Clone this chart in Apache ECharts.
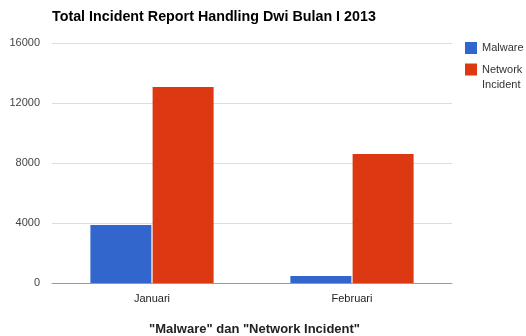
<!DOCTYPE html>
<html>
<head>
<meta charset="utf-8">
<script src="https://cdn.jsdelivr.net/npm/echarts@6/dist/echarts.min.js"></script>
<style>html,body{margin:0;padding:0;background:#fff}#c{width:526px;height:336px}</style>
</head>
<body>
<div id="c"></div>
<script>
var categories = ['Januari', 'Februari'];
var malware = [3870, 470];
var networkIncident = [13070, 8600];
var yTicks = [0, 4000, 8000, 12000, 16000];

var FONT = 'Liberation Sans, Arial, sans-serif';
var chart = echarts.init(document.getElementById('c'), null, {renderer: 'canvas'});
chart.setOption({
  animation: false,
  textStyle: {fontFamily: FONT},
  title: {
    text: 'Total Incident Report Handling Dwi Bulan I 2013',
    left: 52, top: 10, padding: 0,
    textStyle: {fontSize: 14.3, fontWeight: 'bold', color: '#000', fontFamily: FONT}
  },
  legend: [{
    orient: 'vertical',
    left: 465, top: 42, padding: 0,
    itemWidth: 12, itemHeight: 12,
    icon: 'rect',
    textStyle: {fontSize: 11, color: '#333', fontFamily: FONT},
    data: ['Malware']
  }, {
    orient: 'vertical',
    left: 465, top: 47, padding: 0,
    itemWidth: 12, itemHeight: 12,
    icon: 'rect',
    textStyle: {fontSize: 11, color: '#333', lineHeight: 15, fontFamily: FONT},
    formatter: function (n) { return '\nNetwork\nIncident'; },
    data: ['Network Incident']
  }],
  grid: {left: 52, right: 74, top: 43, bottom: 53, outerBoundsMode: 'none'},
  xAxis: {
    type: 'category',
    data: categories,
    name: '"Malware" dan "Network Incident"',
    nameLocation: 'middle',
    nameGap: 40,
    nameTextStyle: {fontSize: 13, fontWeight: 'bold', color: '#222', fontFamily: FONT, padding: [0, 0, 0, 5]},
    axisLine: {lineStyle: {color: '#999', width: 1}},
    axisTick: {show: false},
    axisLabel: {fontSize: 11, color: '#222', margin: 10}
  },
  yAxis: {
    type: 'value',
    min: yTicks[0], max: yTicks[yTicks.length - 1], interval: 4000,
    axisLine: {show: false},
    axisTick: {show: false},
    axisLabel: {fontSize: 11, color: '#444', margin: 12, formatter: function (v) { return String(v); }},
    splitLine: {lineStyle: {color: '#ddd'}}
  },
  series: [
    {name: 'Malware', type: 'bar', data: malware, itemStyle: {color: '#3366cc'}, barWidth: 61, barGap: '2%'},
    {name: 'Network Incident', type: 'bar', data: networkIncident, itemStyle: {color: '#dc3912'}, barWidth: 61, barGap: '2%'}
  ]
});
</script>
</body>
</html>
